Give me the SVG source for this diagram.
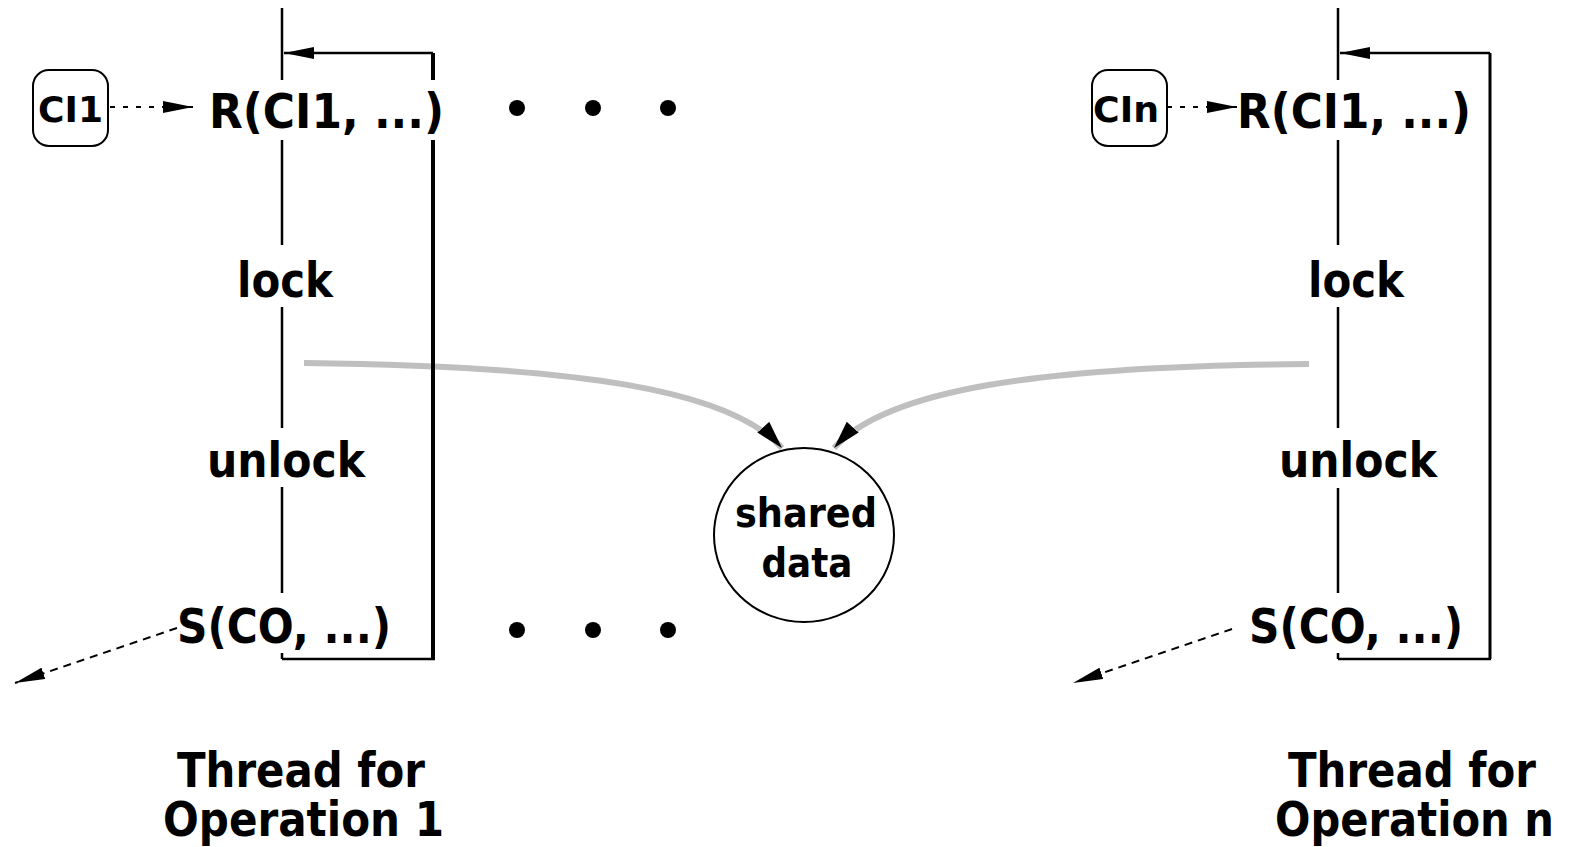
<svg xmlns="http://www.w3.org/2000/svg" width="1571" height="847" viewBox="0 0 1571 847">
<style>
.t{font-family:"DejaVu Sans","Liberation Sans",sans-serif;font-weight:bold;fill:#000}
.ln{stroke:#000;fill:none}
.dash{stroke:#000;stroke-width:2;fill:none}
.gray{stroke:#bfbfbf;stroke-width:6;fill:none}
</style>
<defs>
<marker id="ah" markerUnits="userSpaceOnUse" viewBox="0 0 30 12" refX="30" refY="6" markerWidth="30" markerHeight="12" orient="auto">
<path d="M0,0 L30,6 L0,12 Z" fill="#000"/>
</marker>
<marker id="ahg" markerUnits="userSpaceOnUse" viewBox="0 0 28 16" refX="28" refY="8" markerWidth="28" markerHeight="16" orient="auto">
<path d="M0,0 L28,8 L0,16 Z" fill="#000"/>
</marker>
</defs>

<g id="connectors">
<path class="gray" d="M304,363 C580,366 730,390 782,448" marker-end="url(#ahg)"/>
<path class="gray" d="M1309,364 C1036,366 886,390 834,448" marker-end="url(#ahg)"/>
<path class="ln" stroke-width="2.5" d="M282,8 V80 M282,140 V245 M282,307 V428 M282,487 V593 M282,653 V659"/>
<path class="ln" stroke-width="4" d="M433,53 V80 M433,140 V659"/>
<path class="ln" stroke-width="2.5" d="M282,659 H435"/>
<path class="ln" stroke-width="2.5" d="M433,53 H284" marker-end="url(#ah)"/>
<path class="ln" stroke-width="2.5" d="M1338,8 V80 M1338,140 V245 M1338,307 V428 M1338,488 V593 M1338,653 V659"/>
<path class="ln" stroke-width="3" d="M1490,53 V659"/>
<path class="ln" stroke-width="2.5" d="M1338,659 H1491"/>
<path class="ln" stroke-width="2.5" d="M1490,53 H1340" marker-end="url(#ah)"/>
<path class="dash" stroke-dasharray="5,8" d="M110,107 H193" marker-end="url(#ah)"/>
<path class="dash" stroke-dasharray="5,8" d="M1167,107 H1237" marker-end="url(#ah)"/>
<path class="dash" stroke-dasharray="8,6" d="M177,628 L15,683" marker-end="url(#ah)"/>
<path class="dash" stroke-dasharray="8,6" d="M1232,629 L1073,683" marker-end="url(#ah)"/>
</g>

<g id="ci1">
<rect x="33" y="70" width="75" height="76" rx="16" fill="#fff" stroke="#000" stroke-width="2"/>
<text class="t" x="70.5" y="122" font-size="35" text-anchor="middle" textLength="65" lengthAdjust="spacingAndGlyphs">CI1</text>
</g>
<g id="cin">
<rect x="1092" y="70" width="75" height="76" rx="16" fill="#fff" stroke="#000" stroke-width="2"/>
<text class="t" x="1126" y="122" font-size="35" text-anchor="middle" textLength="66" lengthAdjust="spacingAndGlyphs">CIn</text>
</g>

<g id="thread1">
<text class="t" x="209" y="128" font-size="48" textLength="235" lengthAdjust="spacingAndGlyphs">R(CI1, ...)</text>
<text class="t" x="237" y="297" font-size="48" textLength="96" lengthAdjust="spacingAndGlyphs">lock</text>
<text class="t" x="207" y="477" font-size="48" textLength="158" lengthAdjust="spacingAndGlyphs">unlock</text>
<text class="t" x="177" y="643" font-size="48" textLength="214" lengthAdjust="spacingAndGlyphs">S(CO, ...)</text>
<text class="t" x="177" y="787" font-size="48" textLength="248" lengthAdjust="spacingAndGlyphs">Thread for</text>
<text class="t" x="163" y="836" font-size="48" textLength="281" lengthAdjust="spacingAndGlyphs">Operation 1</text>
</g>

<g id="threadn">
<text class="t" x="1237" y="128" font-size="48" textLength="234" lengthAdjust="spacingAndGlyphs">R(CI1, ...)</text>
<text class="t" x="1308" y="297" font-size="48" textLength="96" lengthAdjust="spacingAndGlyphs">lock</text>
<text class="t" x="1279" y="477" font-size="48" textLength="158" lengthAdjust="spacingAndGlyphs">unlock</text>
<text class="t" x="1249" y="643" font-size="48" textLength="214" lengthAdjust="spacingAndGlyphs">S(CO, ...)</text>
<text class="t" x="1288" y="787" font-size="48" textLength="248" lengthAdjust="spacingAndGlyphs">Thread for</text>
<text class="t" x="1275" y="836" font-size="48" textLength="279" lengthAdjust="spacingAndGlyphs">Operation n</text>
</g>

<g id="dots">
<circle cx="517" cy="108" r="8"/>
<circle cx="593" cy="108" r="8"/>
<circle cx="668" cy="108" r="8"/>
<circle cx="517" cy="630" r="8"/>
<circle cx="593" cy="630" r="8"/>
<circle cx="668" cy="630" r="8"/>
</g>

<g id="shared">
<ellipse cx="804" cy="535" rx="90" ry="87" fill="#fff" stroke="#000" stroke-width="2"/>
<text class="t" x="806" y="527" font-size="41" text-anchor="middle" textLength="142" lengthAdjust="spacingAndGlyphs">shared</text>
<text class="t" x="807" y="577" font-size="41" text-anchor="middle" textLength="91" lengthAdjust="spacingAndGlyphs">data</text>
</g>
</svg>
